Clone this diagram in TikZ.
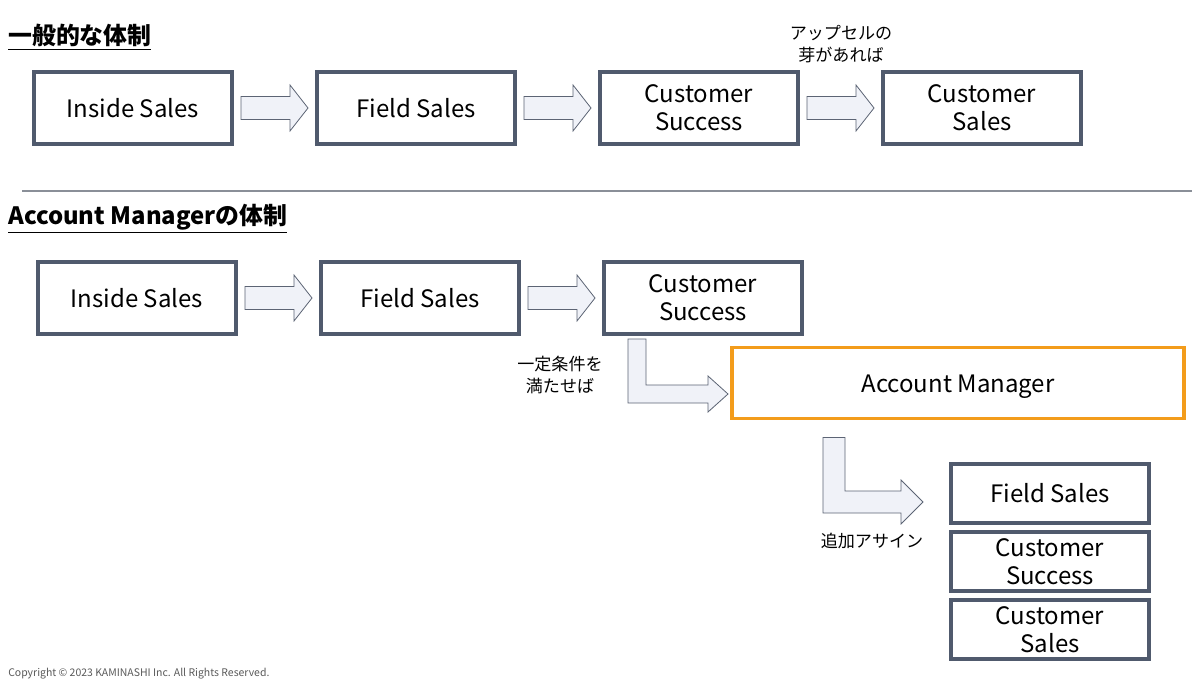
\documentclass[tikz,border=0pt]{standalone}
\usepackage{fontspec}
\setmainfont{Noto Sans CJK JP}
\usetikzlibrary{calc}
\definecolor{boxc}{HTML}{505A6D}
\definecolor{orangec}{HTML}{F39C1B}
\definecolor{arrfill}{HTML}{F0F2F8}
\definecolor{arrdraw}{HTML}{5C6474}
\definecolor{sepc}{HTML}{8A8F98}
\tikzset{
  stage/.style={draw=boxc, line width=2.3pt, fill=white, minimum width=198*0.75pt, minimum height=72*0.75pt, inner sep=0pt, outer sep=0pt, align=center, font=\fontsize{18}{21}\selectfont},
  small/.style={stage, minimum height=59*0.75pt},
  amgr/.style={stage, draw=orangec, minimum width=452*0.75pt, minimum height=71*0.75pt, text height=16pt, text depth=2pt},
  blk/.style={draw=arrdraw, fill=arrfill, line width=0.6pt, line join=miter},
  title/.style={anchor=west, inner sep=0pt, font=\fontsize{17.9}{19}\selectfont\bfseries},
  lbl/.style={align=center, inner sep=0pt, font=\fontsize{12.8}{16.5}\selectfont},
}
\begin{document}
\begin{tikzpicture}[x=0.75pt,y=-0.75pt]
\useasboundingbox (0,0) rectangle (1200,682);
% titles
\node[title] (t1) at (8,37) {\underline{一般的な体制}};
\node[title] (t2) at (8,219) {\underline{Account Managerの体制}};
\draw[sepc, line width=0.8pt] (22,191) coordinate (sa) -- (1192,191) coordinate (sb);

% row 1
\node[stage] (a1) at (133,108) {Inside Sales};
\node[stage] (a2) at (416,108) {Field Sales};
\node[stage] (a3) at (699,108) {Customer\\Success};
\node[stage] (a4) at (982,108) {Customer\\Sales};
\node[lbl] (up) at (841,44) {アップセルの\\芽があれば};

% row 2
\node[stage] (b1) at (137,298) {Inside Sales};
\node[stage] (b2) at (420,298) {Field Sales};
\node[stage] (b3) at (703,298) {Customer\\Success};
\node[amgr] (am) at (958,383) {Account Manager};
\node[small] (c1) at (1050,493.5) {Field Sales};
\node[small] (c2) at (1050,561.5) {Customer\\Success};
\node[small] (c3) at (1050,629.5) {Customer\\Sales};
\node[lbl] (cond) at (560,375) {一定条件を\\満たせば};
\node[lbl] (add) at (872,541) {追加アサイン};

% straight block arrows
\foreach \u/\v in {a1/a2,a2/a3,a3/a4,b1/b2,b2/b3}{
  \coordinate (s) at ($(\u.east)+(9,0)$);
  \coordinate (t) at ($(\v.west)+(-9,0)$);
  \draw[blk] ($(s)+(0,11.5)$) -- ($(t)+(-18,11.5)$) -- ($(t)+(-18,23)$) -- (t)
    -- ($(t)+(-18,-23)$) -- ($(t)+(-18,-11.5)$) -- ($(s)+(0,-11.5)$) -- cycle;
}
% bent arrow 1 : from b3 to am
\draw[blk] ($(b3.south)+(-75,5)$) -- ($(b3.south)+(-57,5)$) -- ($(am.west)+(-86,2)$)
  -- ($(am.west)+(-24,2)$) -- ($(am.west)+(-24,-7)$) -- ($(am.west)+(-4,11)$)
  -- ($(am.west)+(-24,29)$) -- ($(am.west)+(-24,20)$) -- ($(am.west)+(-104,20)$) -- cycle;
% bent arrow 2 : from am to c1
\draw[blk] ($(am.south)+(-135,19)$) -- ($(am.south)+(-113,19)$) -- ($(c1.west)+(-106,-2.5)$)
  -- ($(c1.west)+(-50,-2.5)$) -- ($(c1.west)+(-50,-13.5)$) -- ($(c1.west)+(-28,8.5)$)
  -- ($(c1.west)+(-50,30.5)$) -- ($(c1.west)+(-50,19.5)$) -- ($(c1.west)+(-128,19.5)$) -- cycle;

% copyright
\node[anchor=west, inner sep=0pt, text=black!65, font=\fontsize{7.85}{9}\selectfont] (copy) at (8,674) {Copyright © 2023 KAMINASHI Inc. All Rights Reserved.};
\end{tikzpicture}
\end{document}
